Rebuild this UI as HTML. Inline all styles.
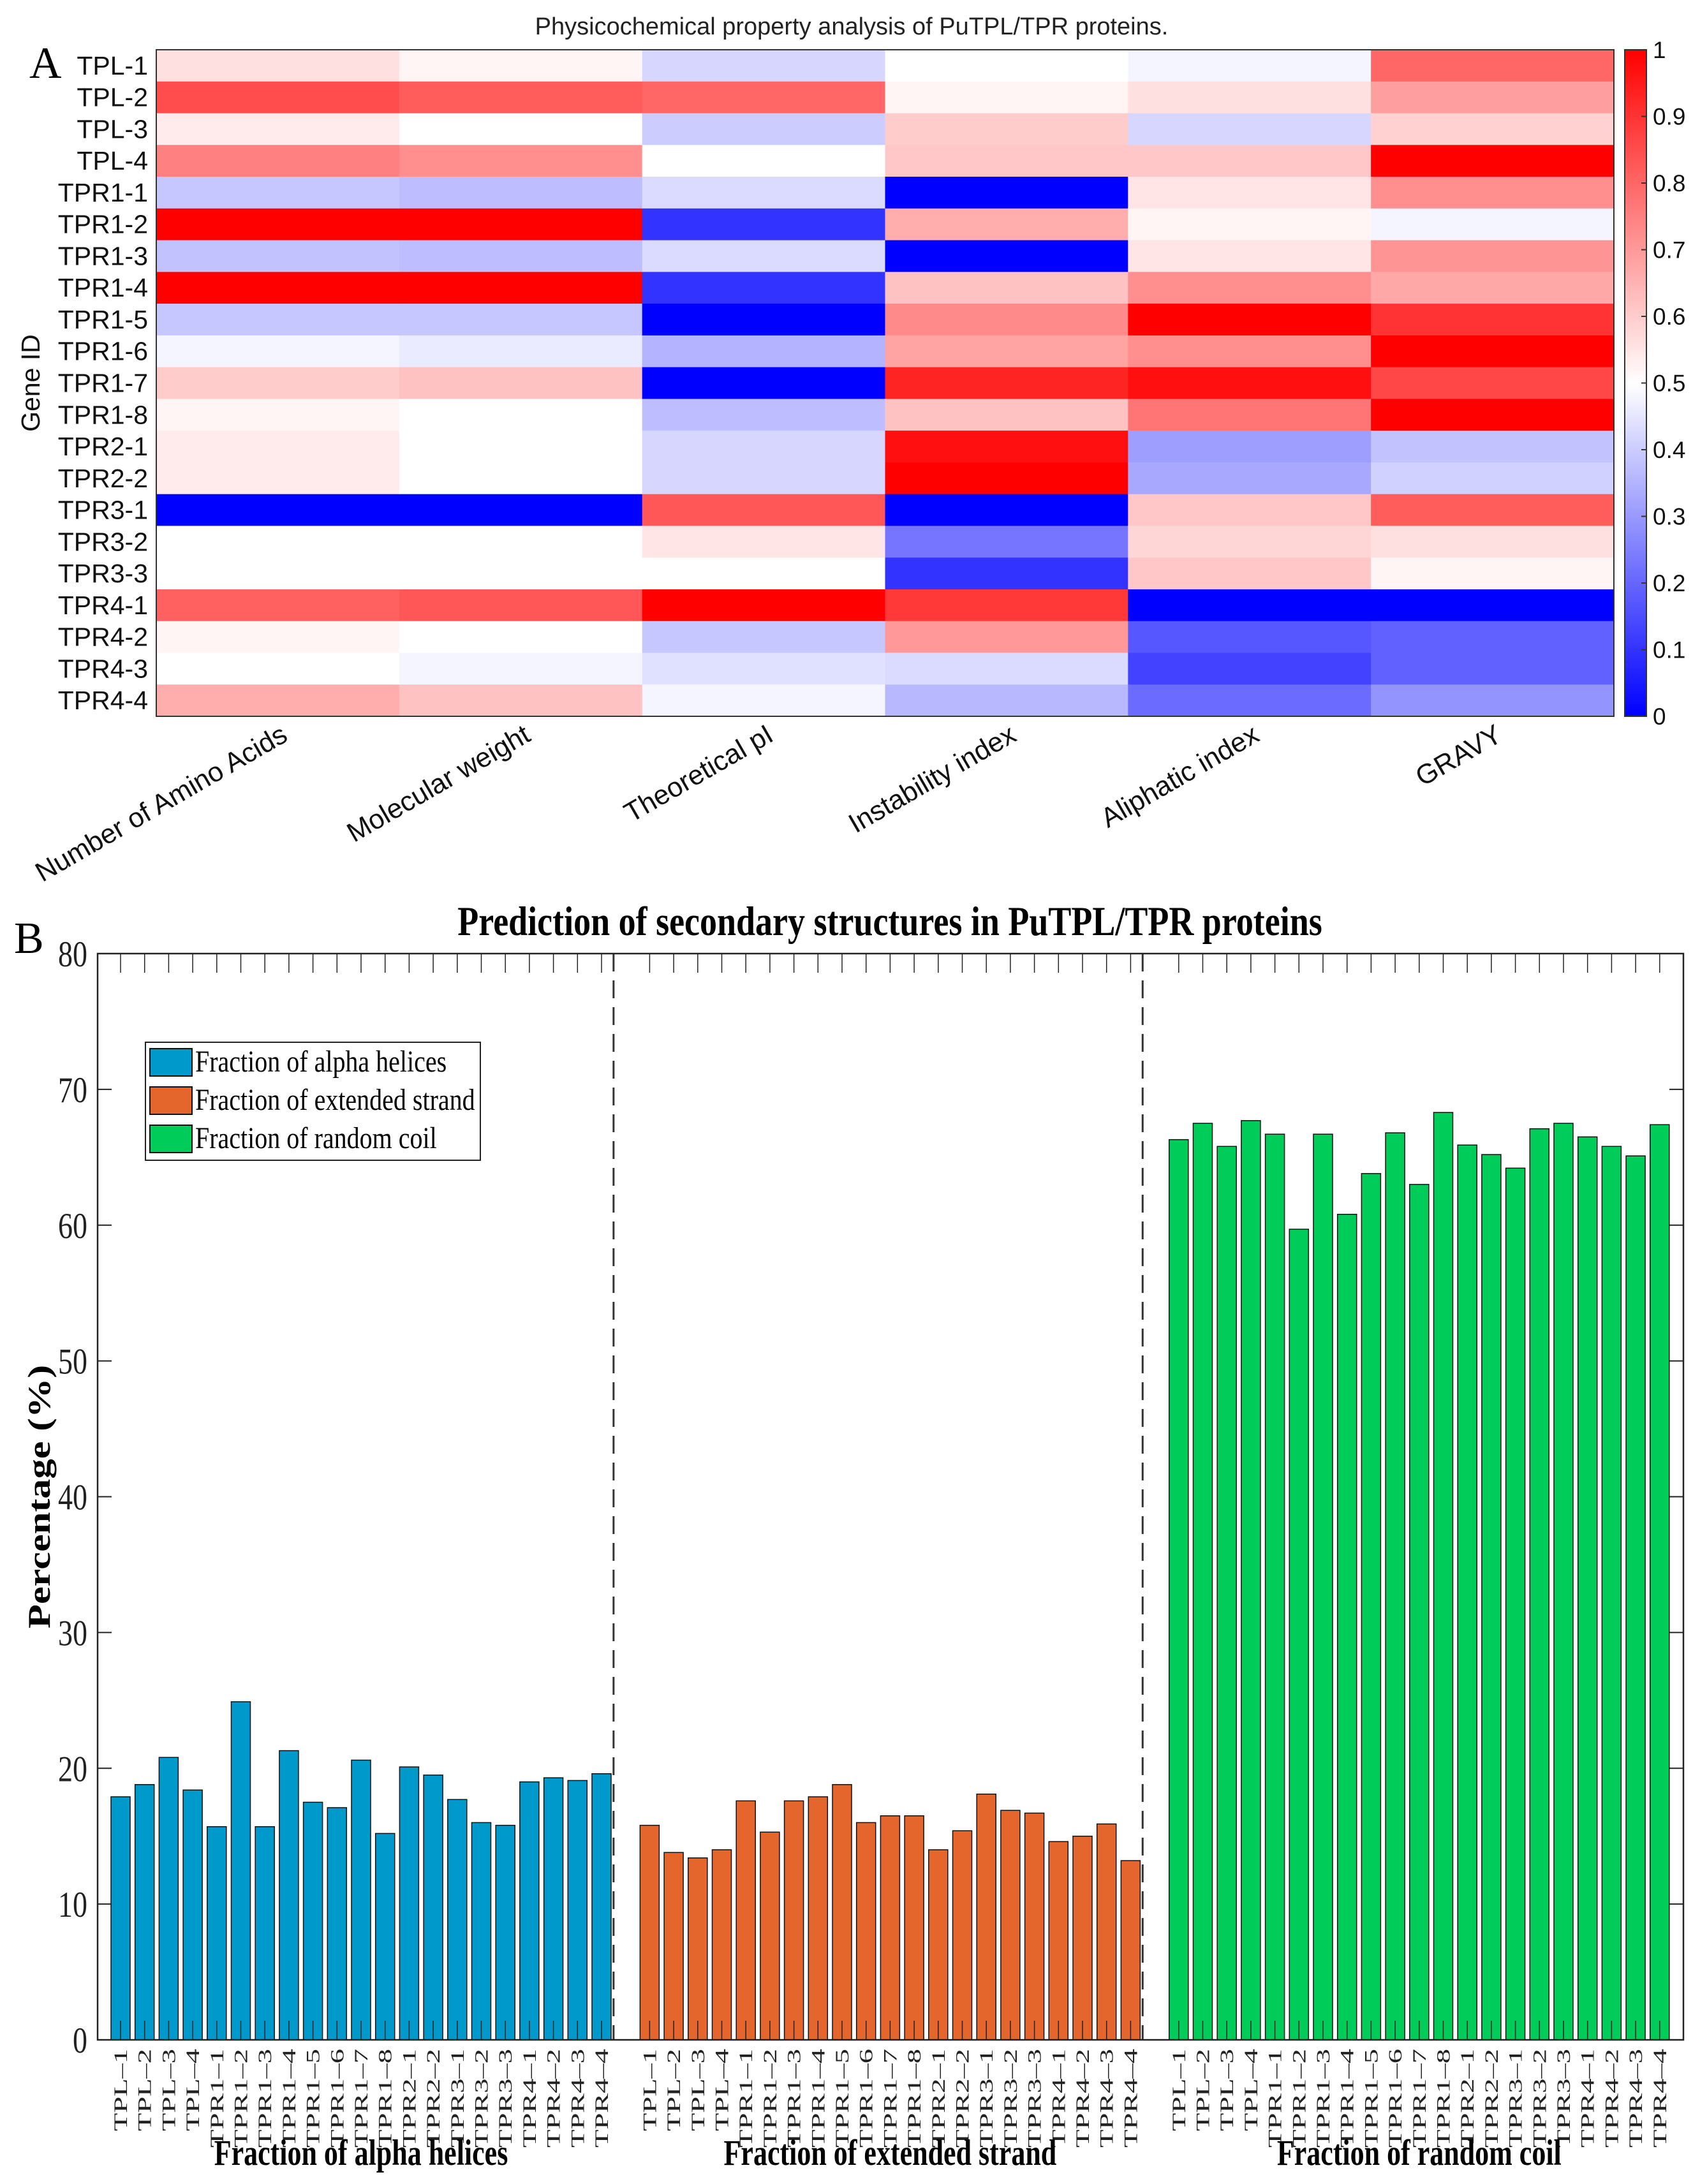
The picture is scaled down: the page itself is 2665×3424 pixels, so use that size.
<!DOCTYPE html>
<html><head><meta charset="utf-8">
<style>
html,body{margin:0;padding:0;background:#fff;}
svg{display:block;}
.sans{font-family:"Liberation Sans",sans-serif;}
.serif{font-family:"Liberation Serif",serif;}
</style></head>
<body>
<svg id="fig" width="2665" height="3424" viewBox="0 0 2665 3424" xmlns="http://www.w3.org/2000/svg">
<g id="heat"></g>
<g id="bars"></g>
</svg>
<script>
// ---------- Heatmap data ----------
const genes = ["TPL-1","TPL-2","TPL-3","TPL-4","TPR1-1","TPR1-2","TPR1-3","TPR1-4","TPR1-5","TPR1-6","TPR1-7","TPR1-8","TPR2-1","TPR2-2","TPR3-1","TPR3-2","TPR3-3","TPR4-1","TPR4-2","TPR4-3","TPR4-4"];
const properties = ["Number of Amino Acids","Molecular weight","Theoretical pI","Instability index","Aliphatic index","GRAVY"];
const colAminoAcids = [0.56,0.85,0.54,0.75,0.39,1.0,0.38,1.0,0.39,0.48,0.6,0.52,0.54,0.54,0.0,0.5,0.5,0.81,0.52,0.5,0.66];
const colMolWeight = [0.52,0.82,0.5,0.72,0.37,1.0,0.37,1.0,0.39,0.46,0.62,0.5,0.5,0.5,0.0,0.5,0.5,0.83,0.5,0.48,0.62];
const colPI = [0.42,0.8,0.4,0.5,0.43,0.1,0.43,0.1,0.0,0.35,0.0,0.37,0.42,0.42,0.83,0.55,0.5,1.0,0.39,0.44,0.48];
const colInstability = [0.5,0.52,0.6,0.61,0.0,0.66,0.0,0.62,0.73,0.68,0.93,0.62,0.97,1.0,0.0,0.23,0.1,0.89,0.7,0.43,0.36];
const colAliphatic = [0.48,0.56,0.42,0.61,0.55,0.52,0.55,0.72,1.0,0.72,0.97,0.77,0.31,0.33,0.61,0.58,0.61,0.0,0.17,0.13,0.21];
const colGravy = [0.8,0.69,0.59,1.0,0.72,0.48,0.71,0.67,0.9,1.0,0.86,1.0,0.38,0.41,0.82,0.56,0.52,0.0,0.19,0.19,0.29];
const colorbarTicks = [0,0.1,0.2,0.3,0.4,0.5,0.6,0.7,0.8,0.9,1];

// ---------- Bar data ----------
const groupLabels = ["Fraction of alpha helices","Fraction of extended strand","Fraction of random coil"];
const alphaHelix = [17.9,18.8,20.8,18.4,15.7,24.9,15.7,21.3,17.5,17.1,20.6,15.2,20.1,19.5,17.7,16.0,15.8,19.0,19.3,19.1,19.6];
const extendedStrand = [15.8,13.8,13.4,14.0,17.6,15.3,17.6,17.9,18.8,16.0,16.5,16.5,14.0,15.4,18.1,16.9,16.7,14.6,15.0,15.9,13.2];
const randomCoil = [66.3,67.5,65.8,67.7,66.7,59.7,66.7,60.8,63.8,66.8,63.0,68.3,65.9,65.2,64.2,67.1,67.5,66.5,65.8,65.1,67.4];
const yTicks = [0,10,20,30,40,50,60,70,80];
const barTickLabels = ["TPL\u20131","TPL\u20132","TPL\u20133","TPL\u20134","TPR1\u20131","TPR1\u20132","TPR1\u20133","TPR1\u20134","TPR1\u20135","TPR1\u20136","TPR1\u20137","TPR1\u20138","TPR2\u20131","TPR2\u20132","TPR3\u20131","TPR3\u20132","TPR3\u20133","TPR4\u20131","TPR4\u20132","TPR4\u20133","TPR4\u20134"];

const NS="http://www.w3.org/2000/svg";
function mk(parent, tag, attrs, text){
  const e=document.createElementNS(NS,tag);
  for(const k in attrs) e.setAttribute(k, attrs[k]);
  if(text!==undefined) e.textContent=text;
  parent.appendChild(e); return e;
}
function cmap(v){
  v=Math.max(0,Math.min(1,v));
  if(v<0.5){const t=v/0.5;const c=Math.round(255*t);return `rgb(${c},${c},255)`;}
  const t=(1-v)/0.5;const c=Math.round(255*t);return `rgb(255,${c},${c})`;
}

// ---------- Heatmap ----------
const H=document.getElementById('heat');
const hx0=245,hx1=2530,hy0=78,hy1=1123;
const cw=(hx1-hx0)/properties.length, rh=(hy1-hy0)/genes.length;
const hxs=j=>hx0+j*cw, hys=i=>hy0+i*rh;
const cols=[colAminoAcids,colMolWeight,colPI,colInstability,colAliphatic,colGravy];
let t;
t=mk(H,'text',{x:1335,y:54,'font-size':38,'text-anchor':'middle',class:'sans',fill:'#222'},"Physicochemical property analysis of PuTPL/TPR proteins.");


t=mk(H,'text',{x:46,y:122,'font-size':70,class:'serif',fill:'#000'},"A");


for(let j=0;j<cols.length;j++){
  for(let i=0;i<genes.length;i++){
    const r=mk(H,'rect',{x:hxs(j),y:hys(i),width:cw+0.6,height:rh+0.6,fill:cmap(cols[j][i])});
    
    
  }
}
const hb=mk(H,'rect',{x:hx0,y:hy0,width:hx1-hx0,height:hy1-hy0,fill:'none',stroke:'#333','stroke-width':2});


genes.forEach((g,i)=>{
  const e=mk(H,'text',{x:232,y:hys(i)+rh/2+14,'font-size':41,'text-anchor':'end',class:'sans',fill:'#111'},g);
  
  
});
t=mk(H,'text',{x:0,y:0,'font-size':41,'text-anchor':'middle',class:'sans',fill:'#111',transform:`translate(62,${(hy0+hy1)/2}) rotate(-90)`},"Gene ID");


properties.forEach((p,j)=>{
  const cx=hxs(j)+cw/2+18;
  const e=mk(H,'text',{x:0,y:0,'font-size':43,'text-anchor':'end',class:'sans',fill:'#111',transform:`translate(${cx},1160) rotate(-30)`},p);
  
  
});
// colorbar
const defs=mk(H,'defs',{});
const lg=mk(defs,'linearGradient',{id:'cb',x1:0,y1:1,x2:0,y2:0});
for(let k=0;k<=20;k++){mk(lg,'stop',{offset:(k/20),'stop-color':cmap(k/20)});}
const cbx=2547,cbw=34,cby0=78,cby1=1123;
const cb=mk(H,'rect',{x:cbx,y:cby0,width:cbw,height:cby1-cby0,fill:'url(#cb)',stroke:'#333','stroke-width':2});


colorbarTicks.forEach(v=>{
  const y=cby1-v*(cby1-cby0);
  mk(H,'line',{x1:cbx+cbw-8,x2:cbx+cbw,y1:y,y2:y,stroke:'#333','stroke-width':2});
  const e=mk(H,'text',{x:cbx+cbw+10,y:y+13,'font-size':37,class:'sans',fill:'#111'},String(v));
  
  
});

// ---------- Bar chart ----------
const B=document.getElementById('bars');
const ax0=153,ax1=2639,ay0=1495,ay1=3198;
const ymax=80;
const ys=v=>ay1-(v/ymax)*(ay1-ay0);
const slot=37.7;
const xs=s=>189+(s-1)*slot;
const bw=30;
t=mk(B,'text',{x:0,y:0,'font-size':54,'font-weight':'bold','text-anchor':'middle',class:'serif',fill:'#000',transform:'translate(1395,1466) scale(1,1.2)'},"Prediction of secondary structures in PuTPL/TPR proteins");


t=mk(B,'text',{x:22,y:1494,'font-size':70,class:'serif',fill:'#000'},"B");


t=mk(B,'text',{x:0,y:0,'font-size':50,'font-weight':'bold','text-anchor':'middle',class:'serif',fill:'#000',transform:`translate(78,${(ay0+ay1)/2}) rotate(-90) scale(1.25,1)`},"Percentage (%)");


const series=[alphaHelix,extendedStrand,randomCoil];
const colors=['#0099cc','#e5662c','#00cc5a'];
series.forEach((arr,g)=>{
  arr.forEach((v,i)=>{
    const s=g*22+i+1;
    const r=mk(B,'rect',{x:xs(s)-bw/2,y:ys(v),width:bw,height:ys(0)-ys(v),fill:colors[g],stroke:'#111','stroke-width':1.5});
    
    
    mk(B,'line',{x1:xs(s),x2:xs(s),y1:ay1,y2:ay1-30,stroke:'#222','stroke-width':1.5});
    mk(B,'line',{x1:xs(s),x2:xs(s),y1:ay0,y2:ay0+30,stroke:'#222','stroke-width':1.5});
    const lab=mk(B,'text',{x:0,y:0,'font-size':30,'text-anchor':'end',class:'serif',fill:'#222',transform:`translate(${xs(s)+10},${ay1+14}) rotate(-90) scale(1.55,1)`},barTickLabels[i]);
    
    
  });
  const gc=(xs(g*22+1)+xs(g*22+arr.length))/2;
  const gl=mk(B,'text',{x:0,y:0,'font-size':44,'font-weight':'bold','text-anchor':'middle',class:'serif',fill:'#000',transform:`translate(${gc},3394) scale(1,1.3)`},groupLabels[g]);
  
  
});
[21.5,43.5].forEach(s=>{
  const d=mk(B,'line',{x1:xs(s),x2:xs(s),y1:ay0,y2:ay1,stroke:'#333','stroke-width':3,'stroke-dasharray':'28,14'});
  
  
});
const frame=mk(B,'rect',{x:ax0,y:ay0,width:ax1-ax0,height:ay1-ay0,fill:'none',stroke:'#222','stroke-width':2.5});


yTicks.forEach(v=>{
  const y=ys(v);
  mk(B,'line',{x1:ax0,x2:ax0+22,y1:y,y2:y,stroke:'#222','stroke-width':2});
  mk(B,'line',{x1:ax1-22,x2:ax1,y1:y,y2:y,stroke:'#222','stroke-width':2});
  const e=mk(B,'text',{x:0,y:0,'font-size':46,'text-anchor':'end',class:'serif',fill:'#222',transform:`translate(${ax0-16},${y+20}) scale(1,1.25)`},String(v));
  
  
});
// legend
const leg=mk(B,'g',{});


mk(leg,'rect',{x:228,y:1634,width:525,height:185,fill:'#fff',stroke:'#222','stroke-width':2});
groupLabels.forEach((l,k)=>{
  const y=1644+k*60;
  const sw=mk(leg,'rect',{x:235,y:y,width:66,height:43,fill:colors[k],stroke:'#111','stroke-width':2});
  
  
  const e=mk(leg,'text',{x:0,y:0,'font-size':40,class:'serif',fill:'#000',transform:`translate(306,${y+36}) scale(1,1.2)`},l);
  
  
});
</script>
</body></html>
